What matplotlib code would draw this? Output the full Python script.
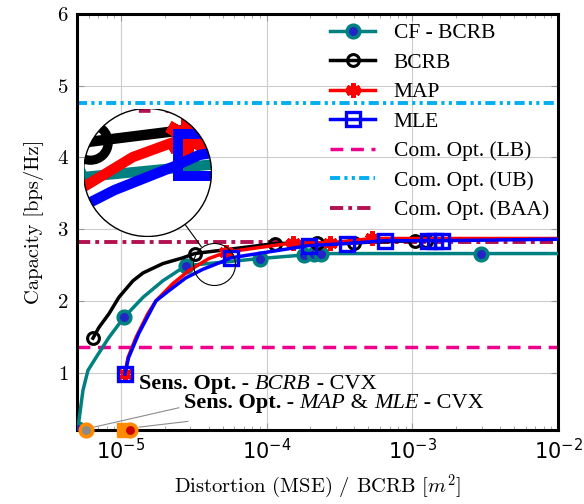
import matplotlib
matplotlib.use("Agg")
import matplotlib.pyplot as plt
from matplotlib.patches import Circle, ConnectionPatch
import numpy as np

plt.rcParams['mathtext.fontset'] = 'cm'
plt.rcParams['axes.formatter.use_mathtext'] = True

# ---- data ----
cf_x = [5.07e-6, 5.49e-6, 5.94e-6, 6.75e-6, 8.28e-6, 1.05e-5, 1.42e-5, 1.94e-5, 2.79e-5,
        8.95e-5, 1.80e-4, 2.10e-4, 2.35e-4, 2.97e-3, 1e-2]
cf_y = [0.22, 0.75, 1.03, 1.21, 1.49, 1.77, 2.05, 2.28, 2.49,
        2.59, 2.64, 2.65, 2.66, 2.66, 2.66]
cf_marks = [0, 5, 8, 9, 10, 11, 12, 13]

bcrb_x = [6.43e-6, 7.07e-6, 8.28e-6, 9.69e-6, 1.21e-5, 1.42e-5, 1.94e-5, 2.66e-5, 3.21e-5,
          1.15e-4, 2.23e-4, 3.95e-4, 1.05e-3, 1.25e-3]
bcrb_y = [1.48, 1.63, 1.82, 2.05, 2.28, 2.39, 2.52, 2.60, 2.66,
          2.80, 2.81, 2.81, 2.84, 2.84]
bcrb_marks = [0, 8, 9, 10, 11, 12, 13]

map_x = [1.065e-5, 1.12e-5, 1.27e-5, 1.53e-5, 1.74e-5, 2.27e-5, 2.92e-5, 4.01e-5, 5.3e-5,
         1.53e-4, 2.74e-4, 5.32e-4, 1e-2]
map_y = [0.98, 1.21, 1.49, 1.82, 2.00, 2.24, 2.42, 2.59, 2.68,
         2.81, 2.81, 2.87, 2.87]
map_marks = [0, 8, 9, 10, 11]

mle_x = [1.065e-5, 1.13e-5, 1.33e-5, 1.74e-5, 2.13e-5, 2.79e-5, 3.65e-5, 5.0e-5, 5.66e-5,
         1.94e-4, 3.59e-4, 6.53e-4, 1.29e-3, 1.44e-3, 1.60e-3, 1e-2]
mle_y = [0.98, 1.21, 1.55, 2.00, 2.14, 2.32, 2.44, 2.55, 2.60,
         2.77, 2.80, 2.84, 2.84, 2.84, 2.84, 2.86]
mle_marks = [0, 8, 9, 10, 11, 12, 13, 14]

com_lb = 1.36
com_ub = 4.76
com_baa = 2.82

# sensing-optimal points (CVX)
sens_bcrb = (5.76e-6, 0.2)
sens_mle = (1.05e-5, 0.2)
sens_map = (1.15e-5, 0.2)

teal = '#008080'
ball = '#2323c8'
orange = '#ff8a00'
c_lb = '#ec008c'
c_ub = '#00aeef'
c_baa = '#b3104f'

fig = plt.figure(figsize=(5.84, 5.04), dpi=100)
ax = fig.add_axes([77/584, 1-430/504, 481/584, 416/504])


def draw_all(a, k=1.0):
    a.axhline(com_lb, color=c_lb, lw=2.5*k, dashes=(3.7, 2.2), label='Com. Opt. (LB)', zorder=2)
    a.axhline(com_ub, color=c_ub, lw=2.8*k, dashes=(2.6, 1.1, 0.8, 1.1, 0.8, 1.1),
              label='Com. Opt. (UB)', zorder=2)
    a.axhline(com_baa, color=c_baa, lw=2.8*k, dashes=(3.4, 1.3, 1.0, 1.3),
              label='Com. Opt. (BAA)', zorder=2)
    a.plot(cf_x, cf_y, color=teal, lw=2.5*k, marker='o', ms=9*k, mfc=ball, mec=teal,
           mew=2.6*k, markevery=cf_marks, label='CF - BCRB', zorder=4)
    a.plot(bcrb_x, bcrb_y, color='black', lw=2.5*k, marker='o', ms=8.5*k, mfc='none',
           mec='black', mew=2.2*k, markevery=bcrb_marks, label='BCRB', zorder=5)
    a.plot(map_x, map_y, color='red', lw=2.5*k, marker=(6, 2, 0), ms=10.5*k, mec='red',
           mew=3.0*k, markevery=map_marks, label='MAP', zorder=6)
    a.plot(mle_x, mle_y, color='blue', lw=2.5*k, marker='s', ms=10*k, mfc='none',
           mec='blue', mew=2.4*k, markevery=mle_marks, label='MLE', zorder=7)


draw_all(ax)

# sensing optimum markers
ax.plot(*sens_mle, marker='s', ms=10, color=orange, mec=orange, clip_on=False, zorder=8)
ax.plot(*sens_bcrb, marker='o', ms=9, mfc='#8a8a8a', mec=orange, mew=2.6, clip_on=False, zorder=9)
ax.plot(*sens_map, marker='o', ms=9, mfc='#cc0000', mec=orange, mew=2.6, clip_on=False, zorder=9)

ax.plot([6.53e-6, 2.5e-5], [0.24, 0.51], color='#8c8c8c', lw=0.8, zorder=3)
ax.plot([1.33e-5, 2.88e-5], [0.24, 0.32], color='#8c8c8c', lw=0.8, zorder=3)


def chain(x, y, parts):
    t = ax.text(x, y, parts[0][0], fontsize=16, family='Liberation Serif',
                fontweight=parts[0][1], fontstyle=parts[0][2], va='baseline', zorder=10)
    for s, w, st in parts[1:]:
        t = ax.annotate(s, xy=(1, 0), xycoords=t, va='bottom', fontsize=16,
                        family='Liberation Serif', fontweight=w, fontstyle=st, zorder=10)


chain(1.33e-5, 0.77, [('Sens. Opt.', 'bold', 'normal'), (' - ', 'normal', 'normal'),
                      ('BCRB', 'normal', 'italic'), (' - CVX', 'normal', 'normal')])
chain(2.7e-5, 0.50, [('Sens. Opt.', 'bold', 'normal'), (' - ', 'normal', 'normal'),
                     ('MAP', 'normal', 'italic'), (' & ', 'normal', 'normal'),
                     ('MLE', 'normal', 'italic'), (' - CVX', 'normal', 'normal')])

ax.set_xscale('log')
ax.set_xlim(5.0e-6, 1e-2)
ax.set_ylim(0.2, 6)
ax.set_yticks([1, 2, 3, 4, 5, 6])
ax.grid(True, which='major', color='#cccccc', lw=0.8, zorder=0)
ax.set_axisbelow(True)
ax.tick_params(which='both', direction='in', top=True, right=True, color='#999999',
               labelsize=15, pad=6)
ax.tick_params(which='major', length=5, width=0.8)
ax.tick_params(which='minor', length=3, width=0.6)
for sp in ax.spines.values():
    sp.set_linewidth(2.2)
for lab in ax.get_yticklabels():
    lab.set_family('cmr10')

ax.set_xlabel('Distortion (MSE) / BCRB [$m^2$]', family='cmr10', fontsize=14.8, labelpad=7)
ax.set_ylabel('Capacity [bps/Hz]', family='cmr10', fontsize=14.8, labelpad=9)

h, l = ax.get_legend_handles_labels()
order = ['CF - BCRB', 'BCRB', 'MAP', 'MLE', 'Com. Opt. (LB)', 'Com. Opt. (UB)', 'Com. Opt. (BAA)']
hl = dict(zip(l, h))
ax.legend([hl[o] for o in order], order, loc='upper right', bbox_to_anchor=(1.0, 1.0),
          frameon=False, prop={'family': 'Liberation Serif', 'size': 15.5},
          handlelength=2.1, handletextpad=0.85, labelspacing=0.44, borderaxespad=0.02)

# magnifier
zx, zy = 4.33e-5, 2.52
rdec, ry = 21/146, 21/72
ax.plot(zx, zy, marker='o', ms=42/100*72, mfc='none', mec='black', mew=0.8, zorder=11)
axin = fig.add_axes([(147.5-64)/584, 1-(172.5+64)/504, 128/584, 128/504])
axin.set_xscale('log')
draw_all(axin, k=3.0)
axin.set_xlim(zx*10**-rdec, zx*10**rdec)
axin.set_ylim(zy-ry, zy+ry)
axin.axis('off')
bg = Circle((0.5, 0.5), 0.5, transform=axin.transAxes, fc='white', ec='none', zorder=0)
axin.add_patch(bg)
for ln in axin.lines:
    ln.set_clip_path(bg)
rim = Circle((0.5, 0.5), 0.5, transform=axin.transAxes, fill=False, ec='black', lw=1.0, zorder=20)
axin.add_patch(rim)
u = np.array([0.586, -0.810])
con = ConnectionPatch(xyA=(0.5+0.5*u[0], 0.5+0.5*u[1]), coordsA=axin.transAxes,
                      xyB=(zx, zy), coordsB=ax.transData, color='black', lw=0.8,
                      shrinkB=15)
fig.add_artist(con)

fig.savefig('out.png', dpi=100)
